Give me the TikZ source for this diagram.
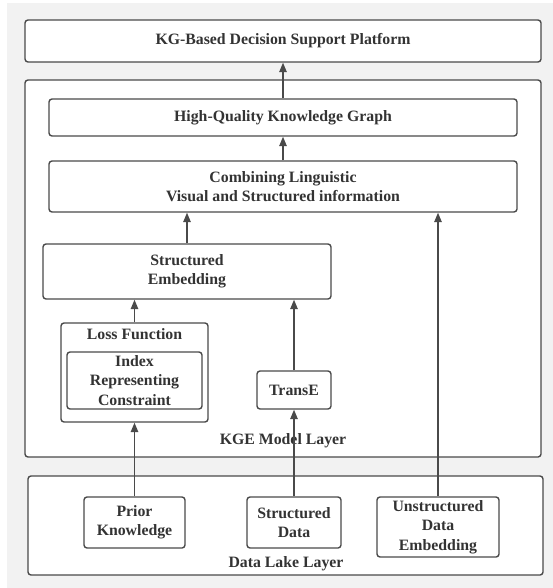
\documentclass[tikz,border=0pt]{standalone}
\usepackage{fontspec}
\setmainfont{Liberation Serif}
\usetikzlibrary{arrows.meta}
\definecolor{bggray}{HTML}{F2F2F2}
\definecolor{linegray}{HTML}{4A4A4A}
\definecolor{txtgray}{HTML}{333333}
\begin{document}
\begin{tikzpicture}[x=1pt,y=-1pt,
  box/.style={draw=linegray,line width=1.4pt,rounded corners=3pt,fill=white,inner sep=0pt,
    text=txtgray,align=center,font=\fontsize{15.8}{19.5}\selectfont\bfseries},
  lbl/.style={inner sep=0pt,text=txtgray,align=center,font=\fontsize{15.8}{19.5}\selectfont\bfseries},
  arr/.style={draw=linegray,line width=1.4pt,-{Triangle[width=7.5pt,length=9.5pt]}}]
\useasboundingbox (0,0) rectangle (553,588);
\fill[bggray] (7,3) rectangle (553,588);
% layers
\node[box,minimum width=516pt,minimum height=42pt] (plat) at (283,41) {KG-Based Decision Support Platform};
\node[box,minimum width=516pt,minimum height=377pt] (kge) at (283,268.5) {};
\node[box,minimum width=515pt,minimum height=99pt] (dl) at (285.5,525.5) {};
% KGE layer content
\node[box,minimum width=468pt,minimum height=37pt] (hq) at (283,117.5) {High-Quality Knowledge Graph};
\node[box,minimum width=468pt,minimum height=51pt] (comb) at (283,186.5) {Combining Linguistic\\Visual and Structured information};
\node[box,minimum width=288pt,minimum height=55pt] (se) at (187,271.5) {Structured\\Embedding};
\node[box,minimum width=147pt,minimum height=99pt] (loss) at (134.5,372.5) {};
\node[lbl] (losst) at (134.5,334) {Loss Function};
\node[box,minimum width=135pt,minimum height=57pt] (idx) at (134.5,380.5) {Index\\Representing\\Constraint};
\node[box,minimum width=74pt,minimum height=38pt] (transe) at (294,390) {TransE};
\node[lbl] (kget) at (283,441) {KGE Model Layer};
% Data lake content
\node[box,minimum width=101pt,minimum height=51pt] (prior) at (134.5,522.5) {Prior\\Knowledge};
\node[box,minimum width=94pt,minimum height=51pt] (sdata) at (294,522.5) {Structured\\Data};
\node[box,minimum width=122pt,minimum height=60pt] (unstr) at (438,527) {Unstructured\\Data\\Embedding};
\node[lbl] (dlt) at (286,564) {Data Lake Layer};
% arrows
\draw[arr] (prior.north) -- (loss.south);
\draw[arr] (sdata.north) -- (transe.south);
\draw[arr] (unstr.north) -- (unstr.north |- comb.south);
\draw[arr] (loss.north) -- (loss.north |- se.south);
\draw[arr] (transe.north) -- (transe.north |- se.south);
\draw[arr] (se.north) -- (se.north |- comb.south);
\draw[arr] (comb.north) -- (hq.south);
\draw[arr] (hq.north) -- (plat.south);
\end{tikzpicture}
\end{document}
